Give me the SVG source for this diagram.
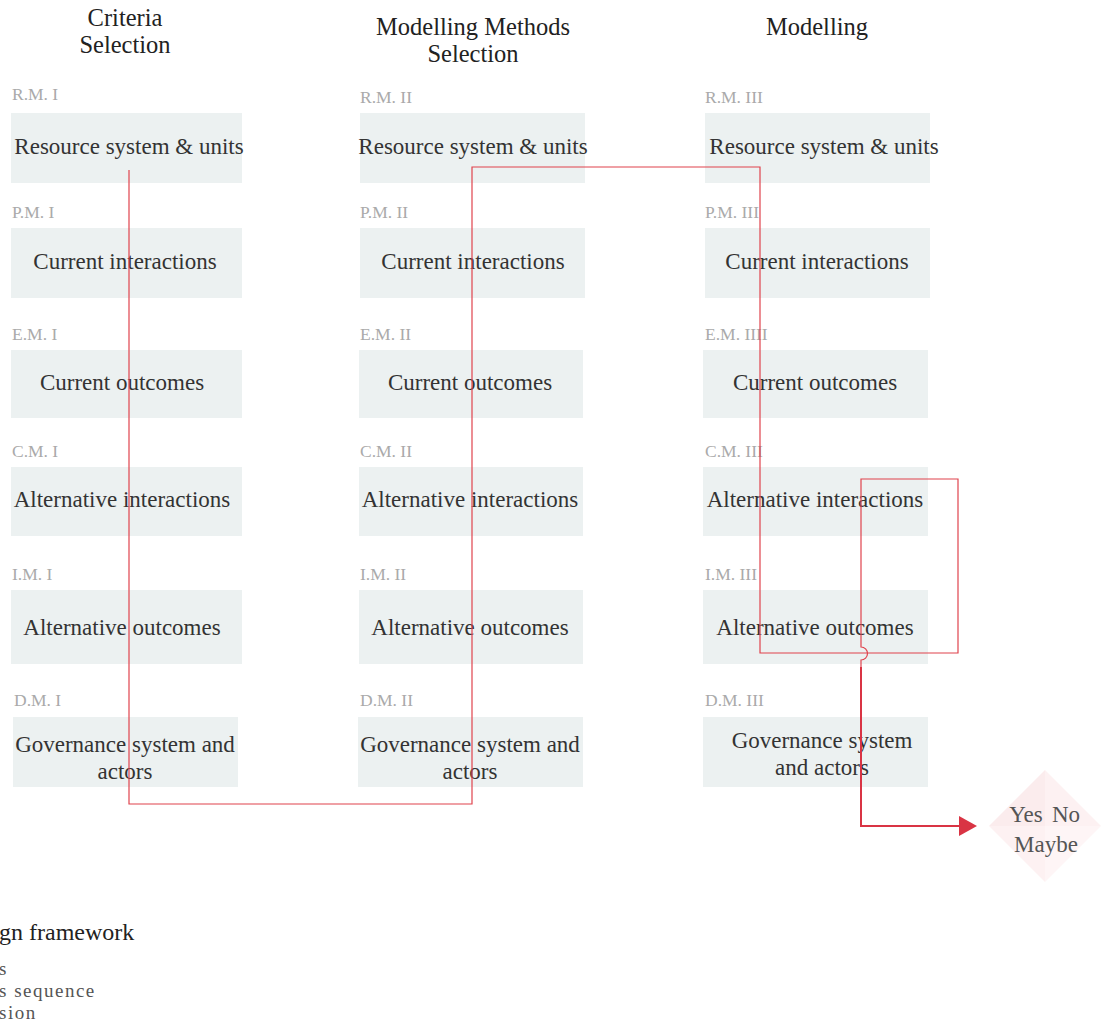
<svg xmlns="http://www.w3.org/2000/svg" width="1106" height="1026" viewBox="0 0 1106 1026">
<style>
text{font-family:"Liberation Serif","DejaVu Serif",serif}
.h{font-size:24.5px;fill:#222;text-anchor:middle}
.lb{font-size:17.5px;fill:#aaa}
.box{fill:#ecf1f1}
.t{font-size:23px;fill:#333;text-anchor:middle}
.leg{font-size:19px;fill:#555;letter-spacing:1.5px}
.ln{fill:none;stroke:#e0434d;stroke-width:1.2}
</style>
<defs>
<marker id="ah" markerWidth="20" markerHeight="20" refX="1" refY="10" orient="auto" markerUnits="userSpaceOnUse">
<path d="M0,0 L18,10 L0,20 Z" fill="#d93444"/>
</marker>
</defs>
<rect width="1106" height="1026" fill="#fff"/>
<g id="headers">
<text class="h" x="125" y="26">Criteria</text>
<text class="h" x="125" y="53">Selection</text>
<text class="h" x="473" y="35">Modelling Methods</text>
<text class="h" x="473" y="62">Selection</text>
<text class="h" x="817" y="35">Modelling</text>
</g>
<g id="col1">
<g id="rm1"><text class="lb" x="12" y="100">R.M. I</text><rect class="box" x="11" y="113" width="231" height="70"/><text class="t" x="129" y="154">Resource system &amp; units</text></g>
<g id="pm1"><text class="lb" x="12" y="218">P.M. I</text><rect class="box" x="11" y="228" width="231" height="70"/><text class="t" x="125" y="269">Current interactions</text></g>
<g id="em1"><text class="lb" x="12" y="340">E.M. I</text><rect class="box" x="11" y="350" width="231" height="68"/><text class="t" x="122" y="390">Current outcomes</text></g>
<g id="cm1"><text class="lb" x="12" y="457">C.M. I</text><rect class="box" x="11" y="467" width="231" height="69"/><text class="t" x="122" y="507">Alternative interactions</text></g>
<g id="im1"><text class="lb" x="12" y="580">I.M. I</text><rect class="box" x="11" y="590" width="231" height="74"/><text class="t" x="122" y="635">Alternative outcomes</text></g>
<g id="dm1"><text class="lb" x="14" y="706">D.M. I</text><rect class="box" x="13" y="717" width="225" height="70"/><text class="t" x="125" y="752">Governance system and</text><text class="t" x="125" y="779">actors</text></g>
</g>
<g id="col2">
<g id="rm2"><text class="lb" x="360" y="103">R.M. II</text><rect class="box" x="360" y="113" width="225" height="70"/><text class="t" x="473" y="154">Resource system &amp; units</text></g>
<g id="pm2"><text class="lb" x="360" y="218">P.M. II</text><rect class="box" x="360" y="228" width="225" height="70"/><text class="t" x="473" y="269">Current interactions</text></g>
<g id="em2"><text class="lb" x="360" y="340">E.M. II</text><rect class="box" x="359" y="350" width="224" height="68"/><text class="t" x="470" y="390">Current outcomes</text></g>
<g id="cm2"><text class="lb" x="360" y="457">C.M. II</text><rect class="box" x="359" y="467" width="224" height="69"/><text class="t" x="470" y="507">Alternative interactions</text></g>
<g id="im2"><text class="lb" x="360" y="580">I.M. II</text><rect class="box" x="359" y="590" width="224" height="74"/><text class="t" x="470" y="635">Alternative outcomes</text></g>
<g id="dm2"><text class="lb" x="360" y="706">D.M. II</text><rect class="box" x="358" y="717" width="225" height="70"/><text class="t" x="470" y="752">Governance system and</text><text class="t" x="470" y="779">actors</text></g>
</g>
<g id="col3">
<g id="rm3"><text class="lb" x="705" y="103">R.M. III</text><rect class="box" x="705" y="113" width="225" height="70"/><text class="t" x="824" y="154">Resource system &amp; units</text></g>
<g id="pm3"><text class="lb" x="705" y="218">P.M. III</text><rect class="box" x="705" y="228" width="225" height="70"/><text class="t" x="817" y="269">Current interactions</text></g>
<g id="em3"><text class="lb" x="705" y="340">E.M. IIII</text><rect class="box" x="703" y="350" width="225" height="68"/><text class="t" x="815" y="390">Current outcomes</text></g>
<g id="cm3"><text class="lb" x="705" y="457">C.M. III</text><rect class="box" x="703" y="467" width="225" height="69"/><text class="t" x="815" y="507">Alternative interactions</text></g>
<g id="im3"><text class="lb" x="705" y="580">I.M. III</text><rect class="box" x="703" y="590" width="225" height="74"/><text class="t" x="815" y="635">Alternative outcomes</text></g>
<g id="dm3"><text class="lb" x="705" y="706">D.M. III</text><rect class="box" x="703" y="717" width="225" height="70"/><text class="t" x="822" y="748">Governance system</text><text class="t" x="822" y="775">and actors</text></g>
</g>
<g id="decision">
<path d="M1045,770 L1045,826 L989,826 Z" fill="#fbeced"/>
<path d="M1045,770 L1101,826 L1045,826 Z" fill="#fdf1f2"/>
<path d="M989,826 L1045,826 L1045,882 Z" fill="#fdf1f2"/>
<path d="M1045,826 L1101,826 L1045,882 Z" fill="#fef5f6"/>
<text x="1026" y="822" font-size="23" fill="#555" text-anchor="middle">Yes</text>
<text x="1066" y="822" font-size="23" fill="#555" text-anchor="middle">No</text>
<text x="1046" y="852" font-size="23" fill="#555" text-anchor="middle">Maybe</text>
</g>
<g id="connectors">
<path class="ln" d="M129,170 V804 H472 V167 H760 V653 H958 V479 H861 V647 A6,6 0 0 1 861,660 V667"/>
<path d="M861,667 V826 H960" fill="none" stroke="#d93444" stroke-width="2" marker-end="url(#ah)"/>
</g>
<g id="legend">
<text x="-1" y="940" font-size="24" fill="#222">gn framework</text>
<text class="leg" x="-1" y="975">s</text>
<text class="leg" x="-1" y="997">s sequence</text>
<text class="leg" x="-1" y="1019">sion</text>
</g>
</svg>
